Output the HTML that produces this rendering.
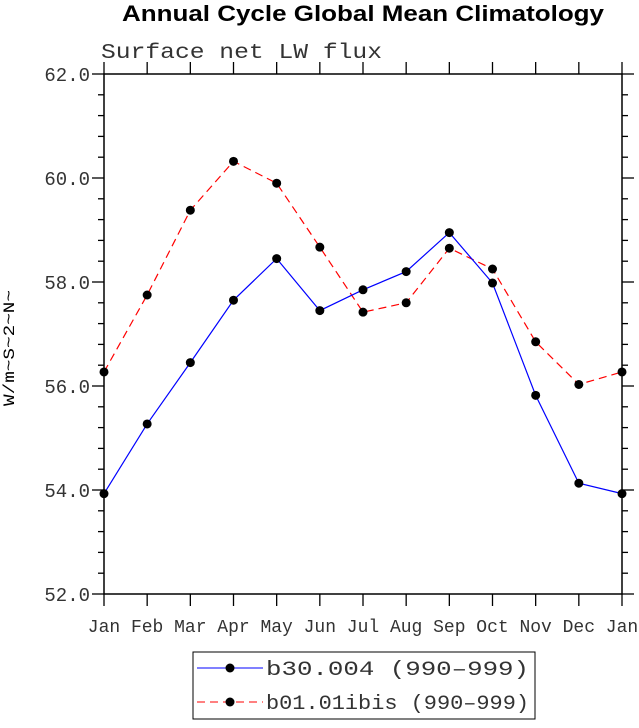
<!DOCTYPE html>
<html><head><meta charset="utf-8"><style>body{margin:0;background:#fff}</style></head>
<body>
<svg id="s" width="639" height="723" xmlns="http://www.w3.org/2000/svg" font-family="Liberation Mono, monospace">
<text x="363" y="21" text-anchor="middle" font-family="Liberation Sans, sans-serif" font-weight="bold" font-size="22" textLength="482" lengthAdjust="spacingAndGlyphs">Annual Cycle Global Mean Climatology</text>
<text x="101" y="58" font-size="21" fill="#333" textLength="281" lengthAdjust="spacingAndGlyphs">Surface net LW flux</text>
<text transform="translate(14,348) rotate(-90)" text-anchor="middle" font-size="16" textLength="116" lengthAdjust="spacingAndGlyphs">W/m~S~2~N~</text>
<g id="g"></g>
<rect x="193" y="652" width="342" height="67" fill="none" stroke="#000" stroke-width="1"/>
<line x1="197" y1="668" x2="263" y2="668" stroke="#00f"/><circle cx="230" cy="668" r="4.5"/>
<text x="266" y="675" font-size="20" fill="#333" textLength="263" lengthAdjust="spacingAndGlyphs">b30.004 (990–999)</text>
<line x1="197" y1="702" x2="263" y2="702" stroke="#f00" stroke-dasharray="8,5"/><circle cx="230" cy="702" r="4.5"/>
<text x="266" y="709" font-size="20" fill="#333" textLength="263" lengthAdjust="spacingAndGlyphs">b01.01ibis (990–999)</text>
</svg>
<script>
const g=document.getElementById('g');let h='';
const L=104,R=622,T=74,B=594,dx=(R-L)/12,Y=v=>B-(v-52)*(B-T)/10;
h+=`<rect x="${L}" y="${T}" width="${R-L}" height="${B-T}" fill="none" stroke="#000" stroke-width="1.5"/>`;
const m=['Jan','Feb','Mar','Apr','May','Jun','Jul','Aug','Sep','Oct','Nov','Dec','Jan'];
for(let i=0;i<=12;i++){const x=L+i*dx;h+=`<line x1="${x}" y1="${B}" x2="${x}" y2="${B+12}" stroke="#000" stroke-width="1.3"/><line x1="${x}" y1="${T}" x2="${x}" y2="${T-12}" stroke="#000" stroke-width="1.3"/><text x="${x}" y="${B+38}" text-anchor="middle" font-size="18" fill="#333">${m[i]}</text>`;}
for(let v=52;v<=62.01;v+=0.4){const y=Y(v);const maj=Math.abs((v-52)/2-Math.round((v-52)/2))<0.01;const l=maj?12:6;
h+=`<line x1="${L}" y1="${y}" x2="${L-l}" y2="${y}" stroke="#000" stroke-width="1.3"/><line x1="${R}" y1="${y}" x2="${R+l}" y2="${y}" stroke="#000" stroke-width="1.3"/>`;
if(maj)h+=`<text x="${L-14}" y="${y+7}" text-anchor="end" font-size="19" fill="#333">${v.toFixed(1)}</text>`;}
const b=[53.93,55.27,56.45,57.65,58.45,57.45,57.85,58.2,58.95,57.98,55.82,54.13,53.93];
const r=[56.27,57.75,59.38,60.32,59.9,58.67,57.42,57.6,58.65,58.25,56.85,56.03,56.27];
function s(d,c,da){h+=`<polyline fill="none" stroke="${c}" stroke-width="1.2" ${da} points="${d.map((v,i)=>(L+i*dx)+','+Y(v)).join(' ')}"/>`;d.forEach((v,i)=>h+=`<circle cx="${L+i*dx}" cy="${Y(v)}" r="4.5"/>`);}
s(r,'#f00','stroke-dasharray="8,5"');s(b,'#00f','');
g.innerHTML=h;
</script>
</body></html>
